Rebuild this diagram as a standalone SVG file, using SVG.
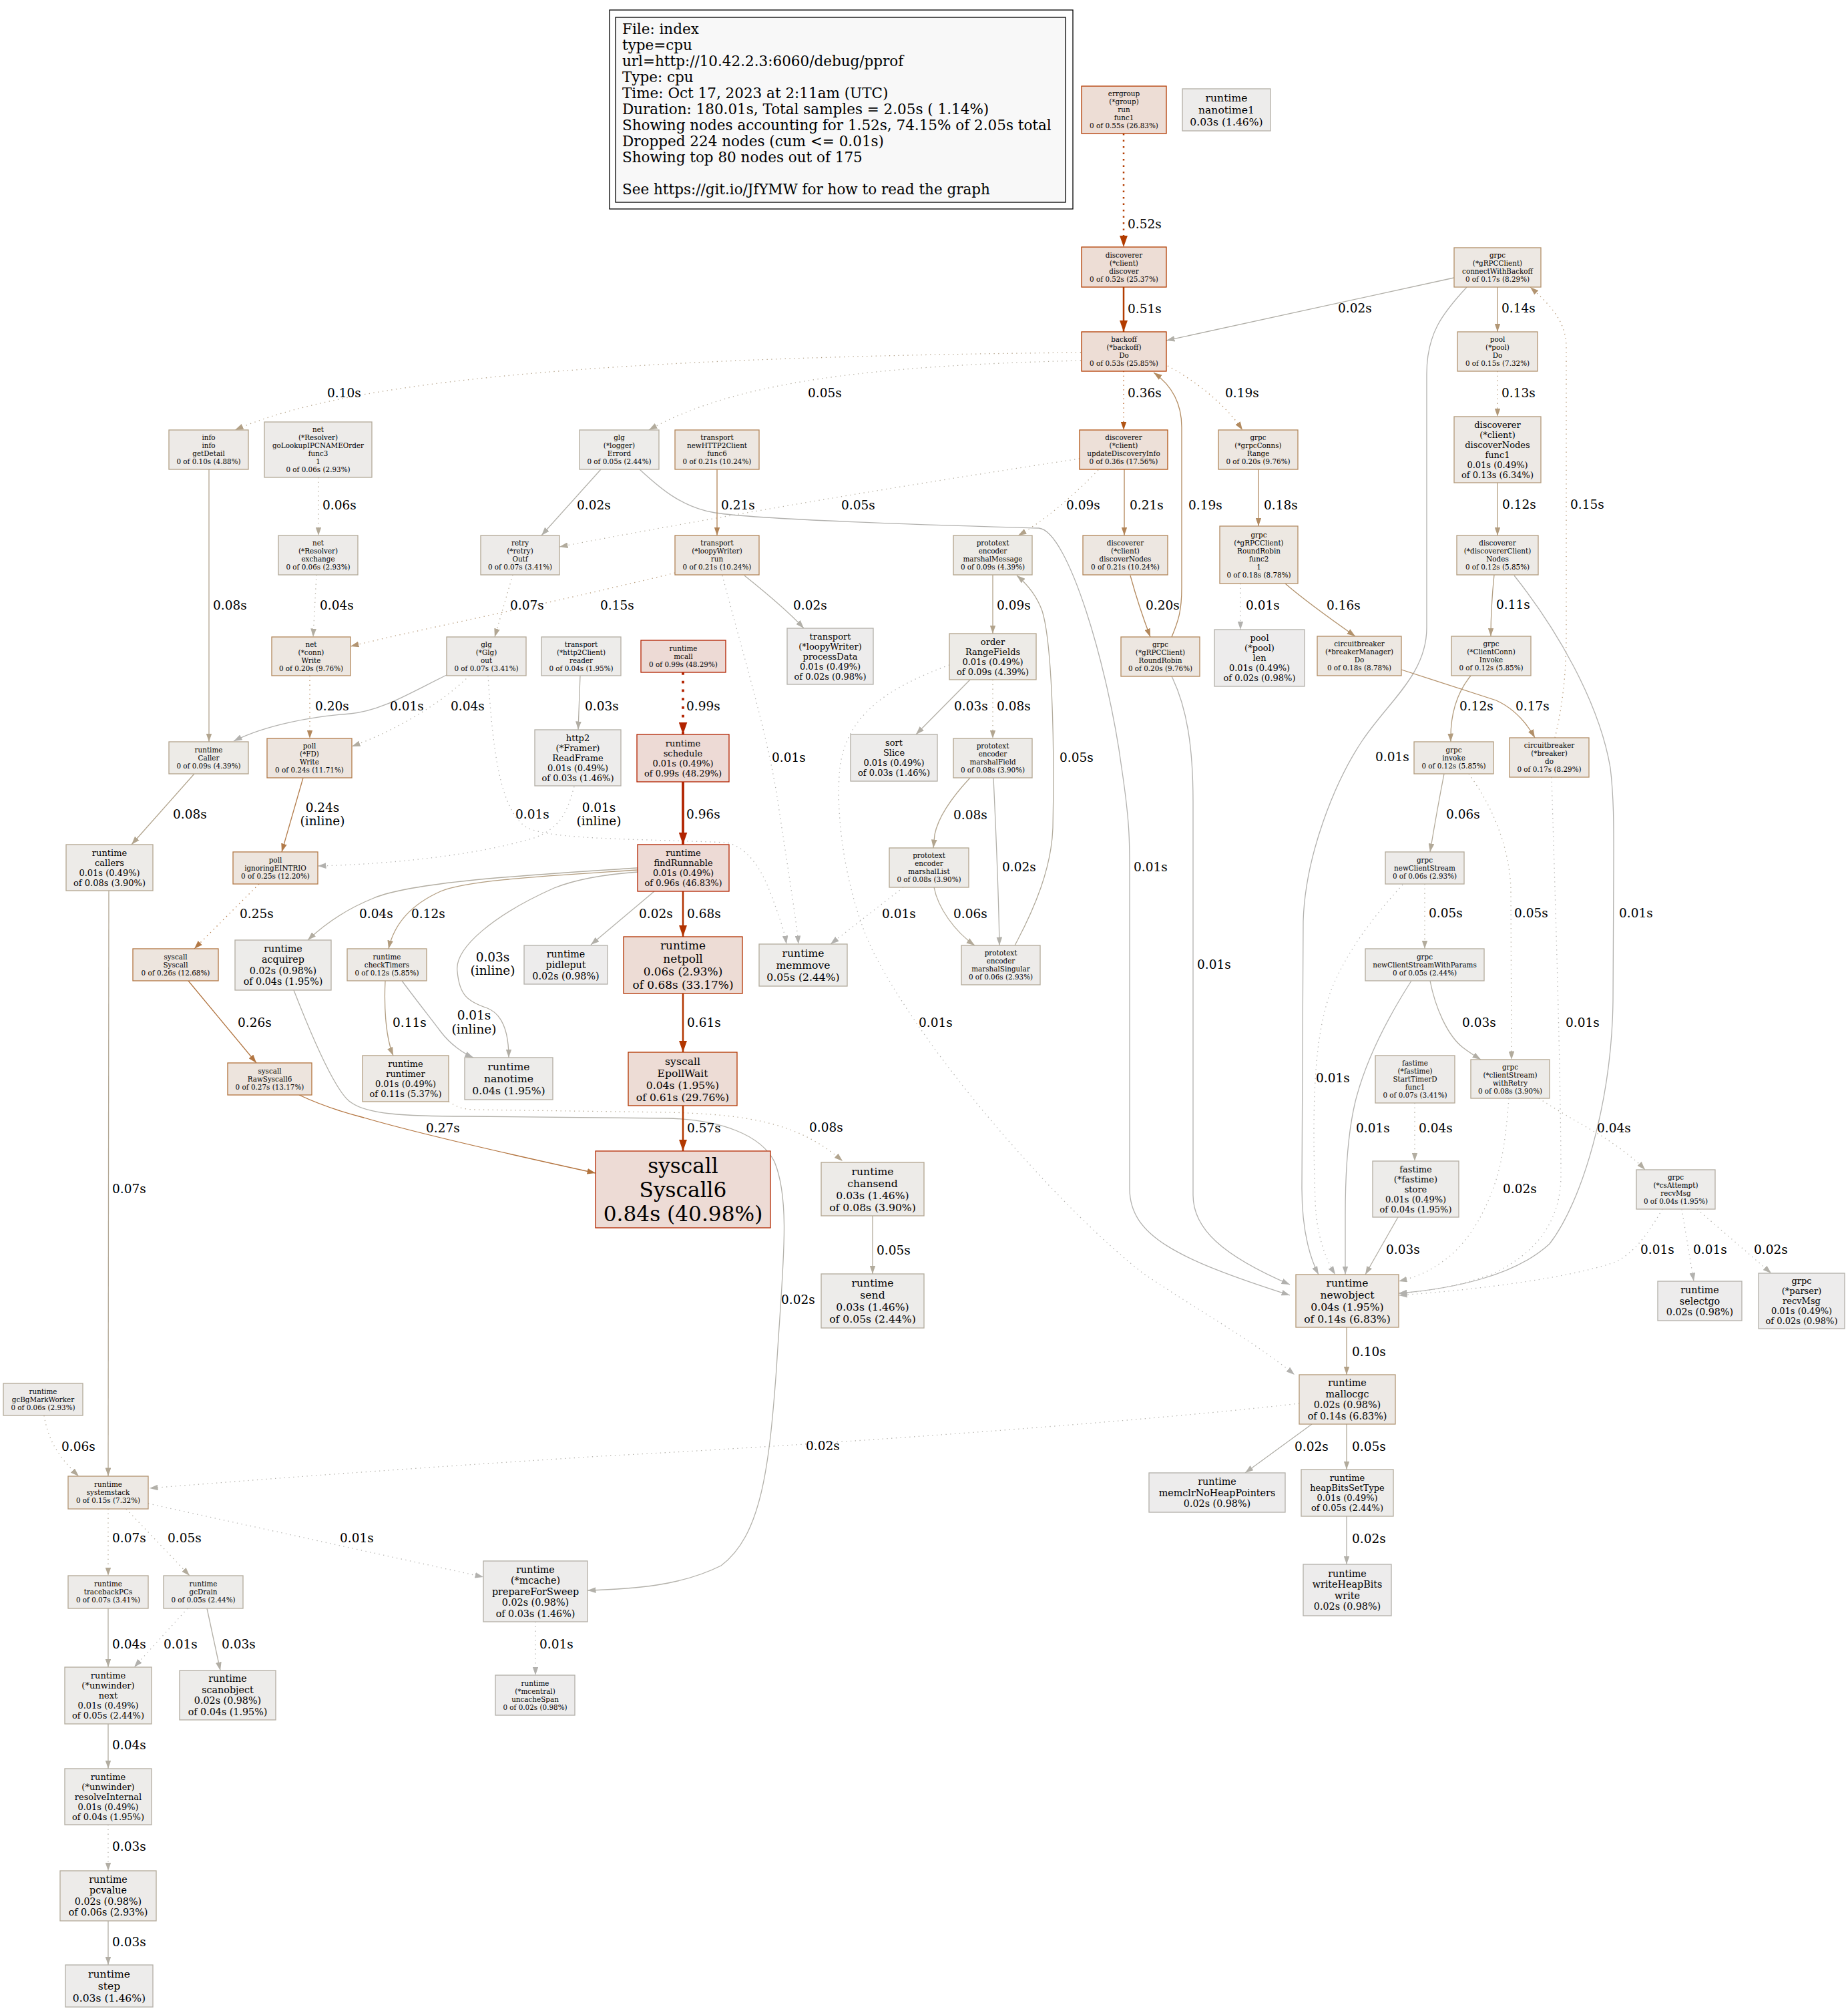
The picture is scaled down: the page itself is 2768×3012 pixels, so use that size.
<svg xmlns="http://www.w3.org/2000/svg" width="2768" height="3012" viewBox="0 0 2768 3012">
<style>
text{font-family:"DejaVu Serif","Liberation Serif",serif;fill:#000}
.nd rect{stroke-width:1.3}
.nd text{text-anchor:middle}
.f8{font-size:10.4px}.f10{font-size:13px}.f11{font-size:14.3px}.f12{font-size:15.6px}.f13{font-size:16.9px}.f24{font-size:31.2px}
.e{fill:none;stroke-width:1.3}
.w2{stroke-width:2.5}.w3{stroke-width:3.75}
.d{stroke-dasharray:1.3 5.5}
.w2.d{stroke-dasharray:2.5 7}.w3.d{stroke-dasharray:3.75 9}
.lb text{font-size:18.5px}
.lb .c{text-anchor:middle}
.leg text{font-size:21.5px}
</style>
<defs>
<marker id="a-b2b0a9" viewBox="0 0 10 7" refX="10" refY="3.5" markerWidth="12.5" markerHeight="8.75" orient="auto" markerUnits="userSpaceOnUse"><path d="M0,0L10,3.5L0,7z" fill="#b2b0a9"/></marker>
<marker id="a-b29775" viewBox="0 0 10 7" refX="10" refY="3.5" markerWidth="12.5" markerHeight="8.75" orient="auto" markerUnits="userSpaceOnUse"><path d="M0,0L10,3.5L0,7z" fill="#b29775"/></marker>
<marker id="a-b2b1ae" viewBox="0 0 10 7" refX="10" refY="3.5" markerWidth="12.5" markerHeight="8.75" orient="auto" markerUnits="userSpaceOnUse"><path d="M0,0L10,3.5L0,7z" fill="#b2b1ae"/></marker>
<marker id="a-b29979" viewBox="0 0 10 7" refX="10" refY="3.5" markerWidth="12.5" markerHeight="8.75" orient="auto" markerUnits="userSpaceOnUse"><path d="M0,0L10,3.5L0,7z" fill="#b29979"/></marker>
<marker id="a-b25515" viewBox="0 0 10 7" refX="10" refY="3.5" markerWidth="12.5" markerHeight="8.75" orient="auto" markerUnits="userSpaceOnUse"><path d="M0,0L10,3.5L0,7z" fill="#b25515"/></marker>
<marker id="a-b28a5f" viewBox="0 0 10 7" refX="10" refY="3.5" markerWidth="12.5" markerHeight="8.75" orient="auto" markerUnits="userSpaceOnUse"><path d="M0,0L10,3.5L0,7z" fill="#b28a5f"/></marker>
<marker id="a-b2a086" viewBox="0 0 10 7" refX="10" refY="3.5" markerWidth="12.5" markerHeight="8.75" orient="auto" markerUnits="userSpaceOnUse"><path d="M0,0L10,3.5L0,7z" fill="#b2a086"/></marker>
<marker id="a-b2ab9c" viewBox="0 0 10 7" refX="10" refY="3.5" markerWidth="12.5" markerHeight="8.75" orient="auto" markerUnits="userSpaceOnUse"><path d="M0,0L10,3.5L0,7z" fill="#b2ab9c"/></marker>
<marker id="a-b2a38b" viewBox="0 0 10 7" refX="10" refY="3.5" markerWidth="12.5" markerHeight="8.75" orient="auto" markerUnits="userSpaceOnUse"><path d="M0,0L10,3.5L0,7z" fill="#b2a38b"/></marker>
<marker id="a-b28457" viewBox="0 0 10 7" refX="10" refY="3.5" markerWidth="12.5" markerHeight="8.75" orient="auto" markerUnits="userSpaceOnUse"><path d="M0,0L10,3.5L0,7z" fill="#b28457"/></marker>
<marker id="a-b28c64" viewBox="0 0 10 7" refX="10" refY="3.5" markerWidth="12.5" markerHeight="8.75" orient="auto" markerUnits="userSpaceOnUse"><path d="M0,0L10,3.5L0,7z" fill="#b28c64"/></marker>
<marker id="a-b29c7e" viewBox="0 0 10 7" refX="10" refY="3.5" markerWidth="12.5" markerHeight="8.75" orient="auto" markerUnits="userSpaceOnUse"><path d="M0,0L10,3.5L0,7z" fill="#b29c7e"/></marker>
<marker id="a-b2a998" viewBox="0 0 10 7" refX="10" refY="3.5" markerWidth="12.5" markerHeight="8.75" orient="auto" markerUnits="userSpaceOnUse"><path d="M0,0L10,3.5L0,7z" fill="#b2a998"/></marker>
<marker id="a-b2a58f" viewBox="0 0 10 7" refX="10" refY="3.5" markerWidth="12.5" markerHeight="8.75" orient="auto" markerUnits="userSpaceOnUse"><path d="M0,0L10,3.5L0,7z" fill="#b2a58f"/></marker>
<marker id="a-b2ada1" viewBox="0 0 10 7" refX="10" refY="3.5" markerWidth="12.5" markerHeight="8.75" orient="auto" markerUnits="userSpaceOnUse"><path d="M0,0L10,3.5L0,7z" fill="#b2ada1"/></marker>
<marker id="a-b2a794" viewBox="0 0 10 7" refX="10" refY="3.5" markerWidth="12.5" markerHeight="8.75" orient="auto" markerUnits="userSpaceOnUse"><path d="M0,0L10,3.5L0,7z" fill="#b2a794"/></marker>
<marker id="a-b29471" viewBox="0 0 10 7" refX="10" refY="3.5" markerWidth="12.5" markerHeight="8.75" orient="auto" markerUnits="userSpaceOnUse"><path d="M0,0L10,3.5L0,7z" fill="#b29471"/></marker>
<marker id="a-b2875b" viewBox="0 0 10 7" refX="10" refY="3.5" markerWidth="12.5" markerHeight="8.75" orient="auto" markerUnits="userSpaceOnUse"><path d="M0,0L10,3.5L0,7z" fill="#b2875b"/></marker>
<marker id="a-b2926c" viewBox="0 0 10 7" refX="10" refY="3.5" markerWidth="12.5" markerHeight="8.75" orient="auto" markerUnits="userSpaceOnUse"><path d="M0,0L10,3.5L0,7z" fill="#b2926c"/></marker>
<marker id="a-b29e82" viewBox="0 0 10 7" refX="10" refY="3.5" markerWidth="12.5" markerHeight="8.75" orient="auto" markerUnits="userSpaceOnUse"><path d="M0,0L10,3.5L0,7z" fill="#b29e82"/></marker>
<marker id="a-b28f68" viewBox="0 0 10 7" refX="10" refY="3.5" markerWidth="12.5" markerHeight="8.75" orient="auto" markerUnits="userSpaceOnUse"><path d="M0,0L10,3.5L0,7z" fill="#b28f68"/></marker>
<marker id="a-b2aea5" viewBox="0 0 10 7" refX="10" refY="3.5" markerWidth="12.5" markerHeight="8.75" orient="auto" markerUnits="userSpaceOnUse"><path d="M0,0L10,3.5L0,7z" fill="#b2aea5"/></marker>
<marker id="a-b27b4a" viewBox="0 0 10 7" refX="10" refY="3.5" markerWidth="12.5" markerHeight="8.75" orient="auto" markerUnits="userSpaceOnUse"><path d="M0,0L10,3.5L0,7z" fill="#b27b4a"/></marker>
<marker id="a-b27845" viewBox="0 0 10 7" refX="10" refY="3.5" markerWidth="12.5" markerHeight="8.75" orient="auto" markerUnits="userSpaceOnUse"><path d="M0,0L10,3.5L0,7z" fill="#b27845"/></marker>
<marker id="a-b27541" viewBox="0 0 10 7" refX="10" refY="3.5" markerWidth="12.5" markerHeight="8.75" orient="auto" markerUnits="userSpaceOnUse"><path d="M0,0L10,3.5L0,7z" fill="#b27541"/></marker>
<marker id="a-b2723c" viewBox="0 0 10 7" refX="10" refY="3.5" markerWidth="12.5" markerHeight="8.75" orient="auto" markerUnits="userSpaceOnUse"><path d="M0,0L10,3.5L0,7z" fill="#b2723c"/></marker>
<marker id="A-b23c00" viewBox="0 0 10 7" refX="10" refY="3.5" markerWidth="17" markerHeight="12" orient="auto" markerUnits="userSpaceOnUse"><path d="M0,0L10,3.5L0,7z" fill="#b23c00"/></marker>
<marker id="A-b22300" viewBox="0 0 10 7" refX="10" refY="3.5" markerWidth="18" markerHeight="13" orient="auto" markerUnits="userSpaceOnUse"><path d="M0,0L10,3.5L0,7z" fill="#b22300"/></marker>
<marker id="A-b22400" viewBox="0 0 10 7" refX="10" refY="3.5" markerWidth="18" markerHeight="13" orient="auto" markerUnits="userSpaceOnUse"><path d="M0,0L10,3.5L0,7z" fill="#b22400"/></marker>
<marker id="A-b23200" viewBox="0 0 10 7" refX="10" refY="3.5" markerWidth="17" markerHeight="12" orient="auto" markerUnits="userSpaceOnUse"><path d="M0,0L10,3.5L0,7z" fill="#b23200"/></marker>
<marker id="A-b23600" viewBox="0 0 10 7" refX="10" refY="3.5" markerWidth="17" markerHeight="12" orient="auto" markerUnits="userSpaceOnUse"><path d="M0,0L10,3.5L0,7z" fill="#b23600"/></marker>
<marker id="A-b23800" viewBox="0 0 10 7" refX="10" refY="3.5" markerWidth="17" markerHeight="12" orient="auto" markerUnits="userSpaceOnUse"><path d="M0,0L10,3.5L0,7z" fill="#b23800"/></marker>
</defs>
<rect width="2768" height="3012" fill="#fff"/>

<g id="legend" class="leg">
<rect x="913" y="15" width="694" height="298" fill="none" stroke="#000" stroke-width="1.3"/>
<rect x="922" y="26" width="674" height="277" fill="#f8f8f8" stroke="#000" stroke-width="1.3"/>
<text x="932" y="50.5">File: index</text>
<text x="932" y="74.5">type=cpu</text>
<text x="932" y="98.5">url=http://10.42.2.3:6060/debug/pprof</text>
<text x="932" y="122.5">Type: cpu</text>
<text x="932" y="146.5">Time: Oct 17, 2023 at 2:11am (UTC)</text>
<text x="932" y="170.5">Duration: 180.01s, Total samples = 2.05s ( 1.14%)</text>
<text x="932" y="194.5">Showing nodes accounting for 1.52s, 74.15% of 2.05s total</text>
<text x="932" y="218.5">Dropped 224 nodes (cum &lt;= 0.01s)</text>
<text x="932" y="242.5">Showing top 80 nodes out of 175</text>
<text x="932" y="290.5">See https://git.io/JfYMW for how to read the graph</text>
</g>

<g id="edges">
<path class="e w2 d" stroke="#b23c00" d="M1683,200L1683,370" marker-end="url(#A-b23c00)"/>
<path class="e w2" stroke="#b23c00" d="M1683,430L1683,497" marker-end="url(#A-b23c00)"/>
<path class="e" stroke="#b2b0a9" d="M2178,416L1747,510" marker-end="url(#a-b2b0a9)"/>
<path class="e" stroke="#b29775" d="M2243,430L2243,497" marker-end="url(#a-b29775)"/>
<path class="e" stroke="#b2b1ae" d="M2197,430C2160,470 2137,500 2137,560L2137,940C2137,1010 2080,1050 2040,1110C2000,1170 1955,1280 1952,1380L1950,1780C1950,1850 1965,1890 1975,1909" marker-end="url(#a-b2b1ae)"/>
<path class="e d" stroke="#b29979" d="M2243,556L2243,624" marker-end="url(#a-b29979)"/>
<path class="e d" stroke="#b25515" d="M1683,556L1683,644" marker-end="url(#a-b25515)"/>
<path class="e d" stroke="#b28a5f" d="M1749,548C1790,570 1835,605 1861,644" marker-end="url(#a-b28a5f)"/>
<path class="e" stroke="#b28a5f" d="M1755,954C1765,930 1770,915 1770,880L1770,640C1770,600 1752,575 1728,558" marker-end="url(#a-b28a5f)"/>
<path class="e d" stroke="#b2a086" d="M1619,528C900,535 520,570 352,644" marker-end="url(#a-b2a086)"/>
<path class="e d" stroke="#b2ab9c" d="M1619,540C1300,548 1100,572 972,644" marker-end="url(#a-b2ab9c)"/>
<path class="e d" stroke="#b2ab9c" d="M1617,687C1400,720 1150,760 838,819" marker-end="url(#a-b2ab9c)"/>
<path class="e d" stroke="#b2a38b" d="M1645,704C1610,740 1565,780 1525,802" marker-end="url(#a-b2a38b)"/>
<path class="e" stroke="#b28457" d="M1684,703L1684,802" marker-end="url(#a-b28457)"/>
<path class="e" stroke="#b28c64" d="M1885,703L1885,788" marker-end="url(#a-b28c64)"/>
<path class="e" stroke="#b29c7e" d="M2243,723L2243,802" marker-end="url(#a-b29c7e)"/>
<path class="e d" stroke="#b2a998" d="M477,715L477,802" marker-end="url(#a-b2a998)"/>
<path class="e" stroke="#b2b0a9" d="M900,703L811,802" marker-end="url(#a-b2b0a9)"/>
<path class="e" stroke="#b2b1ae" d="M958,703C985,728 1020,760 1071,768C1150,780 1450,788 1556,791C1600,795 1660,1000 1680,1150C1692,1230 1692,1260 1692,1300L1692,1780C1692,1850 1760,1885 1932,1940" marker-end="url(#a-b2b1ae)"/>
<path class="e" stroke="#b28457" d="M1074,703L1074,802" marker-end="url(#a-b28457)"/>
<path class="e" stroke="#b2a58f" d="M313,703L313,1111" marker-end="url(#a-b2a58f)"/>
<path class="e d" stroke="#b2ada1" d="M474,861L469,954" marker-end="url(#a-b2ada1)"/>
<path class="e d" stroke="#b2a794" d="M768,861L741,954" marker-end="url(#a-b2a794)"/>
<path class="e d" stroke="#b29471" d="M1011,858C820,905 640,940 525,968" marker-end="url(#a-b29471)"/>
<path class="e" stroke="#b2b0a9" d="M1115,862C1150,890 1180,915 1204,941" marker-end="url(#a-b2b0a9)"/>
<path class="e d" stroke="#b2b1ae" d="M1082,862C1110,970 1150,1100 1165,1200C1180,1300 1193,1380 1196,1414" marker-end="url(#a-b2b1ae)"/>
<path class="e" stroke="#b2a38b" d="M1487,861L1487,949" marker-end="url(#a-b2a38b)"/>
<path class="e" stroke="#b2875b" d="M1693,862C1702,895 1712,925 1723,954" marker-end="url(#a-b2875b)"/>
<path class="e d" stroke="#b2b1ae" d="M1858,874L1858,943" marker-end="url(#a-b2b1ae)"/>
<path class="e" stroke="#b2926c" d="M1925,874C1955,900 1990,925 2030,953" marker-end="url(#a-b2926c)"/>
<path class="e" stroke="#b29e82" d="M2238,861C2235,890 2233,920 2233,953" marker-end="url(#a-b29e82)"/>
<path class="e" stroke="#b2b1ae" d="M2268,862C2330,940 2395,1050 2412,1150C2418,1200 2417,1250 2417,1300L2416,1500C2414,1650 2370,1800 2321,1863C2270,1910 2180,1930 2095,1937" marker-end="url(#a-b2b1ae)"/>
<path class="e" stroke="#b29c7e" d="M2203,1012C2180,1040 2172,1075 2173,1111" marker-end="url(#a-b29c7e)"/>
<path class="e" stroke="#b28f68" d="M2099,1003L2241,1049C2265,1060 2285,1080 2299,1105" marker-end="url(#a-b28f68)"/>
<path class="e d" stroke="#b29471" d="M2329,1105C2340,1060 2346,1010 2346,950L2346,520C2346,480 2320,455 2292,430" marker-end="url(#a-b29471)"/>
<path class="e" stroke="#b2b1ae" d="M669,1011C610,1040 570,1065 524,1069C470,1073 400,1085 350,1110" marker-end="url(#a-b2b1ae)"/>
<path class="e d" stroke="#b2875b" d="M464,1012L464,1106" marker-end="url(#a-b2875b)"/>
<path class="e d" stroke="#b2ada1" d="M703,1012C660,1055 590,1095 527,1118" marker-end="url(#a-b2ada1)"/>
<path class="e d" stroke="#b2b1ae" d="M731,1012C738,1120 748,1215 790,1240C830,1258 950,1256 1089,1262C1120,1270 1140,1300 1155,1340C1168,1375 1175,1395 1178,1414" marker-end="url(#a-b2b1ae)"/>
<path class="e" stroke="#b2aea5" d="M869,1012L866,1093" marker-end="url(#a-b2aea5)"/>
<path class="e w3 d" stroke="#b22300" d="M1023,1007L1023,1100" marker-end="url(#A-b22300)"/>
<path class="e" stroke="#b2a58f" d="M291,1159L197,1265" marker-end="url(#a-b2a58f)"/>
<path class="e" stroke="#b27b4a" d="M454,1165L422,1276" marker-end="url(#a-b27b4a)"/>
<path class="e d" stroke="#b2b1ae" d="M860,1178C850,1215 840,1240 800,1255C700,1285 560,1295 476,1297" marker-end="url(#a-b2b1ae)"/>
<path class="e w3" stroke="#b22400" d="M1023,1171L1023,1265" marker-end="url(#A-b22400)"/>
<path class="e" stroke="#b2a794" d="M163,1334L162,2211" marker-end="url(#a-b2a794)"/>
<path class="e d" stroke="#b27845" d="M388,1324L291,1421" marker-end="url(#a-b27845)"/>
<path class="e" stroke="#b2ada1" d="M955,1300C800,1310 620,1320 560,1345C510,1365 480,1390 461,1408" marker-end="url(#a-b2ada1)"/>
<path class="e" stroke="#b29c7e" d="M955,1303C820,1312 700,1318 660,1335C615,1355 590,1385 582,1421" marker-end="url(#a-b29c7e)"/>
<path class="e" stroke="#b2aea5" d="M955,1306C900,1310 860,1318 830,1330C740,1370 680,1420 685,1455C688,1490 700,1500 730,1510C755,1520 762,1550 762,1584" marker-end="url(#a-b2aea5)"/>
<path class="e" stroke="#b2b0a9" d="M980,1335L885,1415" marker-end="url(#a-b2b0a9)"/>
<path class="e w2" stroke="#b23200" d="M1023,1335L1023,1403" marker-end="url(#A-b23200)"/>
<path class="e d" stroke="#b2b1ae" d="M1353,1329L1244,1414" marker-end="url(#a-b2b1ae)"/>
<path class="e" stroke="#b2a998" d="M1399,1329C1405,1360 1430,1395 1460,1416" marker-end="url(#a-b2a998)"/>
<path class="e" stroke="#b2a58f" d="M1453,1165C1425,1195 1405,1225 1400,1250L1398,1270" marker-end="url(#a-b2a58f)"/>
<path class="e" stroke="#b2b0a9" d="M1488,1165C1492,1250 1496,1350 1497,1416" marker-end="url(#a-b2b0a9)"/>
<path class="e" stroke="#b2ab9c" d="M1520,1416C1550,1360 1575,1300 1577,1240C1580,1100 1575,960 1561,915C1552,890 1535,872 1523,862" marker-end="url(#a-b2ab9c)"/>
<path class="e" stroke="#b2aea5" d="M1453,1018L1372,1100" marker-end="url(#a-b2aea5)"/>
<path class="e d" stroke="#b2a58f" d="M1487,1018L1487,1106" marker-end="url(#a-b2a58f)"/>
<path class="e d" stroke="#b2b1ae" d="M1422,996C1330,1030 1268,1070 1258,1150C1250,1230 1270,1350 1310,1430C1400,1600 1600,1820 1712,1907C1790,1960 1880,2010 1939,2059" marker-end="url(#a-b2b1ae)"/>
<path class="e" stroke="#b2b1ae" d="M1755,1013C1778,1060 1787,1120 1787,1200L1787,1790C1787,1840 1830,1880 1932,1924" marker-end="url(#a-b2b1ae)"/>
<path class="e" stroke="#b2a998" d="M2163,1159C2155,1200 2148,1240 2142,1276" marker-end="url(#a-b2a998)"/>
<path class="e d" stroke="#b2ab9c" d="M2200,1159C2230,1200 2260,1260 2263,1330L2264,1587" marker-end="url(#a-b2ab9c)"/>
<path class="e d" stroke="#b2b1ae" d="M2324,1164C2328,1300 2338,1600 2338,1760C2338,1830 2300,1880 2230,1910C2180,1928 2130,1935 2095,1937" marker-end="url(#a-b2b1ae)"/>
<path class="e" stroke="#b27541" d="M282,1469L384,1592" marker-end="url(#a-b27541)"/>
<path class="e" stroke="#b29e82" d="M577,1469C575,1510 578,1555 589,1581" marker-end="url(#a-b29e82)"/>
<path class="e" stroke="#b2b1ae" d="M602,1469C625,1500 645,1525 660,1545C675,1565 695,1578 709,1584" marker-end="url(#a-b2b1ae)"/>
<path class="e" stroke="#b2b0a9" d="M440,1483C470,1560 505,1640 527,1652C550,1668 600,1672 700,1672L1000,1675C1080,1677 1140,1700 1160,1740C1185,1800 1172,1900 1163,2050C1152,2200 1140,2300 1080,2345C1020,2375 950,2380 880,2382" marker-end="url(#a-b2b0a9)"/>
<path class="e w2" stroke="#b23600" d="M1023,1488L1023,1576" marker-end="url(#A-b23600)"/>
<path class="e d" stroke="#b2ab9c" d="M2134,1324L2134,1421" marker-end="url(#a-b2ab9c)"/>
<path class="e d" stroke="#b2b1ae" d="M2101,1325C2060,1370 2020,1420 1995,1480C1968,1550 1965,1650 1970,1800C1972,1850 1985,1885 2000,1909" marker-end="url(#a-b2b1ae)"/>
<path class="e" stroke="#b2b1ae" d="M2114,1469C2075,1530 2045,1590 2030,1650C2018,1700 2015,1760 2015,1820L2015,1909" marker-end="url(#a-b2b1ae)"/>
<path class="e" stroke="#b2aea5" d="M2142,1469C2150,1510 2168,1550 2190,1568C2200,1576 2210,1582 2218,1587" marker-end="url(#a-b2aea5)"/>
<path class="e" stroke="#b2723c" d="M448,1640C480,1655 510,1665 545,1674C600,1690 700,1715 892,1757" marker-end="url(#a-b2723c)"/>
<path class="e d" stroke="#b2a58f" d="M672,1650C685,1658 690,1661 710,1662L1000,1666C1130,1669 1200,1685 1262,1739" marker-end="url(#a-b2a58f)"/>
<path class="e w2" stroke="#b23800" d="M1023,1656L1023,1724" marker-end="url(#A-b23800)"/>
<path class="e d" stroke="#b2ada1" d="M2119,1652L2119,1739" marker-end="url(#a-b2ada1)"/>
<path class="e d" stroke="#b2b0a9" d="M2260,1645C2256,1700 2250,1740 2240,1770C2220,1830 2190,1870 2160,1890C2140,1905 2120,1913 2095,1919" marker-end="url(#a-b2b0a9)"/>
<path class="e d" stroke="#b2ada1" d="M2305,1645C2340,1668 2380,1690 2400,1702C2425,1718 2450,1737 2464,1752" marker-end="url(#a-b2ada1)"/>
<path class="e" stroke="#b2ab9c" d="M1307,1821L1307,1908" marker-end="url(#a-b2ab9c)"/>
<path class="e" stroke="#b2aea5" d="M2094,1823L2045,1909" marker-end="url(#a-b2aea5)"/>
<path class="e d" stroke="#b2b1ae" d="M2490,1811C2470,1845 2450,1875 2420,1890C2350,1915 2200,1933 2095,1940" marker-end="url(#a-b2b1ae)"/>
<path class="e d" stroke="#b2b1ae" d="M2519,1811L2537,1919" marker-end="url(#a-b2b1ae)"/>
<path class="e d" stroke="#b2b0a9" d="M2542,1811L2653,1907" marker-end="url(#a-b2b0a9)"/>
<path class="e" stroke="#b2a086" d="M2017,1988L2017,2059" marker-end="url(#a-b2a086)"/>
<path class="e d" stroke="#b2b0a9" d="M1946,2102C1750,2125 1300,2160 900,2181C600,2200 400,2215 224,2229" marker-end="url(#a-b2b0a9)"/>
<path class="e" stroke="#b2b0a9" d="M1965,2133L1865,2206" marker-end="url(#a-b2b0a9)"/>
<path class="e" stroke="#b2ab9c" d="M2017,2133L2017,2201" marker-end="url(#a-b2ab9c)"/>
<path class="e" stroke="#b2b0a9" d="M2017,2271L2017,2343" marker-end="url(#a-b2b0a9)"/>
<path class="e d" stroke="#b2a998" d="M66,2120C72,2155 85,2180 118,2211" marker-end="url(#a-b2a998)"/>
<path class="e d" stroke="#b2a794" d="M162,2260L162,2360" marker-end="url(#a-b2a794)"/>
<path class="e d" stroke="#b2ab9c" d="M189,2260L284,2360" marker-end="url(#a-b2ab9c)"/>
<path class="e d" stroke="#b2b1ae" d="M222,2252L724,2362" marker-end="url(#a-b2b1ae)"/>
<path class="e" stroke="#b2ada1" d="M162,2409L162,2497" marker-end="url(#a-b2ada1)"/>
<path class="e d" stroke="#b2b1ae" d="M281,2409L201,2497" marker-end="url(#a-b2b1ae)"/>
<path class="e" stroke="#b2aea5" d="M310,2409L330,2502" marker-end="url(#a-b2aea5)"/>
<path class="e" stroke="#b2ada1" d="M162,2582L162,2649" marker-end="url(#a-b2ada1)"/>
<path class="e d" stroke="#b2aea5" d="M162,2733L162,2802" marker-end="url(#a-b2aea5)"/>
<path class="e" stroke="#b2aea5" d="M162,2877L162,2943" marker-end="url(#a-b2aea5)"/>
<path class="e d" stroke="#b2b1ae" d="M802,2429L802,2509" marker-end="url(#a-b2b1ae)"/>
</g>

<g id="edge-labels" class="lb">
<text x="1689" y="341.5">0.52s</text>
<text x="1689" y="468.5">0.51s</text>
<text x="2004" y="467.5">0.02s</text>
<text x="2249" y="467.5">0.14s</text>
<text x="2249" y="594.5">0.13s</text>
<text x="1689" y="594.5">0.36s</text>
<text x="1835" y="594.5">0.19s</text>
<text x="1780" y="762.5">0.19s</text>
<text x="490" y="594.5">0.10s</text>
<text x="1210" y="594.5">0.05s</text>
<text x="1260" y="762.5">0.05s</text>
<text x="1597" y="762.5">0.09s</text>
<text x="1692" y="762.5">0.21s</text>
<text x="1893" y="762.5">0.18s</text>
<text x="2250" y="761.5">0.12s</text>
<text x="483" y="762.5">0.06s</text>
<text x="864" y="762.5">0.02s</text>
<text x="1080" y="762.5">0.21s</text>
<text x="2352" y="761.5">0.15s</text>
<text x="319" y="912.5">0.08s</text>
<text x="479" y="912.5">0.04s</text>
<text x="764" y="912.5">0.07s</text>
<text x="899" y="912.5">0.15s</text>
<text x="1188" y="912.5">0.02s</text>
<text x="1493" y="912.5">0.09s</text>
<text x="1716" y="912.5">0.20s</text>
<text x="1866" y="912.5">0.01s</text>
<text x="1987" y="912.5">0.16s</text>
<text x="2241" y="911.5">0.11s</text>
<text x="2186" y="1063.5">0.12s</text>
<text x="2270" y="1063.5">0.17s</text>
<text x="2060" y="1139.5">0.01s</text>
<text x="472" y="1063.5">0.20s</text>
<text x="584" y="1063.5">0.01s</text>
<text x="675" y="1063.5">0.04s</text>
<text x="876" y="1063.5">0.03s</text>
<text x="1028" y="1063.5">0.99s</text>
<text x="1429" y="1063.5">0.03s</text>
<text x="1493" y="1063.5">0.08s</text>
<text x="1156" y="1140.5">0.01s</text>
<text x="1587" y="1140.5">0.05s</text>
<text class="c" x="483" y="1215.5">0.24s</text>
<text class="c" x="483" y="1235.5">(inline)</text>
<text class="c" x="897" y="1215.5">0.01s</text>
<text class="c" x="897" y="1235.5">(inline)</text>
<text x="259" y="1225.5">0.08s</text>
<text x="772" y="1225.5">0.01s</text>
<text x="1028" y="1225.5">0.96s</text>
<text x="1428" y="1226.5">0.08s</text>
<text x="2166" y="1225.5">0.06s</text>
<text x="1698" y="1304.5">0.01s</text>
<text x="1501" y="1304.5">0.02s</text>
<text x="359" y="1374.5">0.25s</text>
<text x="538" y="1374.5">0.04s</text>
<text x="616" y="1374.5">0.12s</text>
<text x="957" y="1374.5">0.02s</text>
<text x="1029" y="1374.5">0.68s</text>
<text x="1321" y="1374.5">0.01s</text>
<text x="1428" y="1374.5">0.06s</text>
<text x="2140" y="1373.5">0.05s</text>
<text x="2268" y="1373.5">0.05s</text>
<text x="2425" y="1373.5">0.01s</text>
<text class="c" x="738" y="1439.5">0.03s</text>
<text class="c" x="738" y="1459.5">(inline)</text>
<text x="1793" y="1450.5">0.01s</text>
<text x="356" y="1537.5">0.26s</text>
<text x="588" y="1537.5">0.11s</text>
<text class="c" x="710" y="1526.5">0.01s</text>
<text class="c" x="710" y="1547.5">(inline)</text>
<text x="1029" y="1537.5">0.61s</text>
<text x="1376" y="1537.5">0.01s</text>
<text x="2190" y="1537.5">0.03s</text>
<text x="2345" y="1537.5">0.01s</text>
<text x="1971" y="1620.5">0.01s</text>
<text x="638" y="1695.5">0.27s</text>
<text x="1029" y="1695.5">0.57s</text>
<text x="1212" y="1694.5">0.08s</text>
<text x="2031" y="1695.5">0.01s</text>
<text x="2125" y="1695.5">0.04s</text>
<text x="2392" y="1695.5">0.04s</text>
<text x="168" y="1786.5">0.07s</text>
<text x="2251" y="1786.5">0.02s</text>
<text x="1313" y="1878.5">0.05s</text>
<text x="2076" y="1877.5">0.03s</text>
<text x="2457" y="1877.5">0.01s</text>
<text x="2536" y="1877.5">0.01s</text>
<text x="2627" y="1877.5">0.02s</text>
<text x="1170" y="1952.5">0.02s</text>
<text x="2025" y="2030.5">0.10s</text>
<text x="92" y="2172.5">0.06s</text>
<text x="1207" y="2171.5">0.02s</text>
<text x="1939" y="2172.5">0.02s</text>
<text x="2025" y="2172.5">0.05s</text>
<text x="168" y="2309.5">0.07s</text>
<text x="251" y="2309.5">0.05s</text>
<text x="509" y="2309.5">0.01s</text>
<text x="2025" y="2310.5">0.02s</text>
<text x="168" y="2468.5">0.04s</text>
<text x="245" y="2468.5">0.01s</text>
<text x="332" y="2468.5">0.03s</text>
<text x="808" y="2468.5">0.01s</text>
<text x="168" y="2619.5">0.04s</text>
<text x="168" y="2771.5">0.03s</text>
<text x="168" y="2914.5">0.03s</text>
</g>

<g id="N1" class="nd"><rect x="1620" y="129" width="127" height="71" fill="#edddd5" stroke="#b23a00"/><text class="f8"><tspan x="1683.5" y="144.2">errgroup</tspan><tspan x="1683.5" y="156.2">(*group)</tspan><tspan x="1683.5" y="168.2">run</tspan><tspan x="1683.5" y="180.2">func1</tspan><tspan x="1683.5" y="192.2">0 of 0.55s (26.83%)</tspan></text></g>
<g id="N2" class="nd"><rect x="1771" y="133" width="132" height="63" fill="#edeceb" stroke="#b2aea5"/><text class="f12"><tspan x="1837" y="152.1">runtime</tspan><tspan x="1837" y="170.1">nanotime1</tspan><tspan x="1837" y="188.1">0.03s (1.46%)</tspan></text></g>
<g id="N3" class="nd"><rect x="1620" y="370" width="127" height="60" fill="#edddd5" stroke="#b23c00"/><text class="f8"><tspan x="1683.5" y="385.7">discoverer</tspan><tspan x="1683.5" y="397.7">(*client)</tspan><tspan x="1683.5" y="409.7">discover</tspan><tspan x="1683.5" y="421.7">0 of 0.52s (25.37%)</tspan></text></g>
<g id="N4" class="nd"><rect x="2178" y="371" width="130" height="59" fill="#ede8e3" stroke="#b28f68"/><text class="f8"><tspan x="2243" y="386.2">grpc</tspan><tspan x="2243" y="398.2">(*gRPCClient)</tspan><tspan x="2243" y="410.2">connectWithBackoff</tspan><tspan x="2243" y="422.2">0 of 0.17s (8.29%)</tspan></text></g>
<g id="N5" class="nd"><rect x="1620" y="497" width="127" height="59" fill="#edddd5" stroke="#b23b00"/><text class="f8"><tspan x="1683.5" y="512.2">backoff</tspan><tspan x="1683.5" y="524.2">(*backoff)</tspan><tspan x="1683.5" y="536.2">Do</tspan><tspan x="1683.5" y="548.2">0 of 0.53s (25.85%)</tspan></text></g>
<g id="N6" class="nd"><rect x="2183" y="497" width="120" height="59" fill="#ede9e4" stroke="#b29471"/><text class="f8"><tspan x="2243" y="512.2">pool</tspan><tspan x="2243" y="524.2">(*pool)</tspan><tspan x="2243" y="536.2">Do</tspan><tspan x="2243" y="548.2">0 of 0.15s (7.32%)</tspan></text></g>
<g id="N7" class="nd"><rect x="1617" y="644" width="132" height="59" fill="#ede0d8" stroke="#b25515"/><text class="f8"><tspan x="1683" y="659.2">discoverer</tspan><tspan x="1683" y="671.2">(*client)</tspan><tspan x="1683" y="683.2">updateDiscoveryInfo</tspan><tspan x="1683" y="695.2">0 of 0.36s (17.56%)</tspan></text></g>
<g id="N8" class="nd"><rect x="1825" y="644" width="119" height="59" fill="#ede7e1" stroke="#b2875b"/><text class="f8"><tspan x="1884.5" y="659.2">grpc</tspan><tspan x="1884.5" y="671.2">(*grpcConns)</tspan><tspan x="1884.5" y="683.2">Range</tspan><tspan x="1884.5" y="695.2">0 of 0.20s (9.76%)</tspan></text></g>
<g id="N9" class="nd"><rect x="2178" y="624" width="130" height="99" fill="#ede9e5" stroke="#b29979"/><text class="f10"><tspan x="2243" y="640.7">discoverer</tspan><tspan x="2243" y="655.7">(*client)</tspan><tspan x="2243" y="670.7">discoverNodes</tspan><tspan x="2243" y="685.7">func1</tspan><tspan x="2243" y="700.7">0.01s (0.49%)</tspan><tspan x="2243" y="715.7">of 0.13s (6.34%)</tspan></text></g>
<g id="N10" class="nd"><rect x="253" y="644" width="119" height="59" fill="#edeae7" stroke="#b2a086"/><text class="f8"><tspan x="312.5" y="659.2">info</tspan><tspan x="312.5" y="671.2">info</tspan><tspan x="312.5" y="683.2">getDetail</tspan><tspan x="312.5" y="695.2">0 of 0.10s (4.88%)</tspan></text></g>
<g id="N11" class="nd"><rect x="396" y="632" width="161" height="83" fill="#edebe9" stroke="#b2a998"/><text class="f8"><tspan x="476.5" y="647.2">net</tspan><tspan x="476.5" y="659.2">(*Resolver)</tspan><tspan x="476.5" y="671.2">goLookupIPCNAMEOrder</tspan><tspan x="476.5" y="683.2">func3</tspan><tspan x="476.5" y="695.2">1</tspan><tspan x="476.5" y="707.2">0 of 0.06s (2.93%)</tspan></text></g>
<g id="N12" class="nd"><rect x="868" y="644" width="119" height="59" fill="#edecea" stroke="#b2ab9c"/><text class="f8"><tspan x="927.5" y="659.2">glg</tspan><tspan x="927.5" y="671.2">(*logger)</tspan><tspan x="927.5" y="683.2">Errord</tspan><tspan x="927.5" y="695.2">0 of 0.05s (2.44%)</tspan></text></g>
<g id="N13" class="nd"><rect x="1011" y="644" width="126" height="59" fill="#ede7e1" stroke="#b28457"/><text class="f8"><tspan x="1074" y="659.2">transport</tspan><tspan x="1074" y="671.2">newHTTP2Client</tspan><tspan x="1074" y="683.2">func6</tspan><tspan x="1074" y="695.2">0 of 0.21s (10.24%)</tspan></text></g>
<g id="N14" class="nd"><rect x="417" y="802" width="119" height="59" fill="#edebe9" stroke="#b2a998"/><text class="f8"><tspan x="476.5" y="817.2">net</tspan><tspan x="476.5" y="829.2">(*Resolver)</tspan><tspan x="476.5" y="841.2">exchange</tspan><tspan x="476.5" y="853.2">0 of 0.06s (2.93%)</tspan></text></g>
<g id="N15" class="nd"><rect x="720" y="802" width="118" height="59" fill="#edebe9" stroke="#b2a794"/><text class="f8"><tspan x="779" y="817.2">retry</tspan><tspan x="779" y="829.2">(*retry)</tspan><tspan x="779" y="841.2">Outf</tspan><tspan x="779" y="853.2">0 of 0.07s (3.41%)</tspan></text></g>
<g id="N16" class="nd"><rect x="1011" y="802" width="126" height="59" fill="#ede7e1" stroke="#b28457"/><text class="f8"><tspan x="1074" y="817.2">transport</tspan><tspan x="1074" y="829.2">(*loopyWriter)</tspan><tspan x="1074" y="841.2">run</tspan><tspan x="1074" y="853.2">0 of 0.21s (10.24%)</tspan></text></g>
<g id="N17" class="nd"><rect x="1428" y="802" width="118" height="59" fill="#edebe7" stroke="#b2a38b"/><text class="f8"><tspan x="1487" y="817.2">prototext</tspan><tspan x="1487" y="829.2">encoder</tspan><tspan x="1487" y="841.2">marshalMessage</tspan><tspan x="1487" y="853.2">0 of 0.09s (4.39%)</tspan></text></g>
<g id="N18" class="nd"><rect x="1622" y="802" width="127" height="59" fill="#ede7e1" stroke="#b28457"/><text class="f8"><tspan x="1685.5" y="817.2">discoverer</tspan><tspan x="1685.5" y="829.2">(*client)</tspan><tspan x="1685.5" y="841.2">discoverNodes</tspan><tspan x="1685.5" y="853.2">0 of 0.21s (10.24%)</tspan></text></g>
<g id="N19" class="nd"><rect x="1827" y="788" width="117" height="86" fill="#ede8e2" stroke="#b28c64"/><text class="f8"><tspan x="1885.5" y="804.7">grpc</tspan><tspan x="1885.5" y="816.7">(*gRPCClient)</tspan><tspan x="1885.5" y="828.7">RoundRobin</tspan><tspan x="1885.5" y="840.7">func2</tspan><tspan x="1885.5" y="852.7">1</tspan><tspan x="1885.5" y="864.7">0 of 0.18s (8.78%)</tspan></text></g>
<g id="N20" class="nd"><rect x="2182" y="802" width="122" height="59" fill="#edeae6" stroke="#b29c7e"/><text class="f8"><tspan x="2243" y="817.2">discoverer</tspan><tspan x="2243" y="829.2">(*discovererClient)</tspan><tspan x="2243" y="841.2">Nodes</tspan><tspan x="2243" y="853.2">0 of 0.12s (5.85%)</tspan></text></g>
<g id="N21" class="nd"><rect x="407" y="954" width="118" height="58" fill="#ede7e1" stroke="#b2875b"/><text class="f8"><tspan x="466" y="968.7">net</tspan><tspan x="466" y="980.7">(*conn)</tspan><tspan x="466" y="992.7">Write</tspan><tspan x="466" y="1004.7">0 of 0.20s (9.76%)</tspan></text></g>
<g id="N22" class="nd"><rect x="669" y="954" width="119" height="58" fill="#edebe9" stroke="#b2a794"/><text class="f8"><tspan x="728.5" y="968.7">glg</tspan><tspan x="728.5" y="980.7">(*Glg)</tspan><tspan x="728.5" y="992.7">out</tspan><tspan x="728.5" y="1004.7">0 of 0.07s (3.41%)</tspan></text></g>
<g id="N23" class="nd"><rect x="811" y="954" width="119" height="58" fill="#edecea" stroke="#b2ada1"/><text class="f8"><tspan x="870.5" y="968.7">transport</tspan><tspan x="870.5" y="980.7">(*http2Client)</tspan><tspan x="870.5" y="992.7">reader</tspan><tspan x="870.5" y="1004.7">0 of 0.04s (1.95%)</tspan></text></g>
<g id="N24" class="nd"><rect x="960" y="959" width="127" height="48" fill="#eddad5" stroke="#b22300"/><text class="f8"><tspan x="1023.5" y="974.7">runtime</tspan><tspan x="1023.5" y="986.7">mcall</tspan><tspan x="1023.5" y="998.7">0 of 0.99s (48.29%)</tspan></text></g>
<g id="N25" class="nd"><rect x="1179" y="941" width="129" height="84" fill="#edecec" stroke="#b2b0a9"/><text class="f10"><tspan x="1243.5" y="957.7">transport</tspan><tspan x="1243.5" y="972.7">(*loopyWriter)</tspan><tspan x="1243.5" y="987.7">processData</tspan><tspan x="1243.5" y="1002.7">0.01s (0.49%)</tspan><tspan x="1243.5" y="1017.7">of 0.02s (0.98%)</tspan></text></g>
<g id="N26" class="nd"><rect x="1422" y="949" width="130" height="69" fill="#edebe7" stroke="#b2a38b"/><text class="f10"><tspan x="1487" y="965.7">order</tspan><tspan x="1487" y="980.7">RangeFields</tspan><tspan x="1487" y="995.7">0.01s (0.49%)</tspan><tspan x="1487" y="1010.7">of 0.09s (4.39%)</tspan></text></g>
<g id="N27" class="nd"><rect x="1679" y="954" width="118" height="59" fill="#ede7e1" stroke="#b2875b"/><text class="f8"><tspan x="1738" y="969.2">grpc</tspan><tspan x="1738" y="981.2">(*gRPCClient)</tspan><tspan x="1738" y="993.2">RoundRobin</tspan><tspan x="1738" y="1005.2">0 of 0.20s (9.76%)</tspan></text></g>
<g id="N28" class="nd"><rect x="1819" y="943" width="135" height="85" fill="#edecec" stroke="#b2b0a9"/><text class="f10"><tspan x="1886.5" y="960.2">pool</tspan><tspan x="1886.5" y="975.2">(*pool)</tspan><tspan x="1886.5" y="990.2">len</tspan><tspan x="1886.5" y="1005.2">0.01s (0.49%)</tspan><tspan x="1886.5" y="1020.2">of 0.02s (0.98%)</tspan></text></g>
<g id="N29" class="nd"><rect x="1973" y="953" width="126" height="59" fill="#ede8e2" stroke="#b28c64"/><text class="f8"><tspan x="2036" y="968.2">circuitbreaker</tspan><tspan x="2036" y="980.2">(*breakerManager)</tspan><tspan x="2036" y="992.2">Do</tspan><tspan x="2036" y="1004.2">0 of 0.18s (8.78%)</tspan></text></g>
<g id="N30" class="nd"><rect x="2174" y="953" width="119" height="59" fill="#edeae6" stroke="#b29c7e"/><text class="f8"><tspan x="2233.5" y="968.2">grpc</tspan><tspan x="2233.5" y="980.2">(*ClientConn)</tspan><tspan x="2233.5" y="992.2">Invoke</tspan><tspan x="2233.5" y="1004.2">0 of 0.12s (5.85%)</tspan></text></g>
<g id="N31" class="nd"><rect x="253" y="1111" width="119" height="48" fill="#edebe7" stroke="#b2a38b"/><text class="f8"><tspan x="312.5" y="1126.7">runtime</tspan><tspan x="312.5" y="1138.7">Caller</tspan><tspan x="312.5" y="1150.7">0 of 0.09s (4.39%)</tspan></text></g>
<g id="N32" class="nd"><rect x="400" y="1106" width="127" height="59" fill="#ede5df" stroke="#b27b4a"/><text class="f8"><tspan x="463.5" y="1121.2">poll</tspan><tspan x="463.5" y="1133.2">(*FD)</tspan><tspan x="463.5" y="1145.2">Write</tspan><tspan x="463.5" y="1157.2">0 of 0.24s (11.71%)</tspan></text></g>
<g id="N33" class="nd"><rect x="801" y="1093" width="129" height="84" fill="#edeceb" stroke="#b2aea5"/><text class="f10"><tspan x="865.5" y="1109.7">http2</tspan><tspan x="865.5" y="1124.7">(*Framer)</tspan><tspan x="865.5" y="1139.7">ReadFrame</tspan><tspan x="865.5" y="1154.7">0.01s (0.49%)</tspan><tspan x="865.5" y="1169.7">of 0.03s (1.46%)</tspan></text></g>
<g id="N34" class="nd"><rect x="954" y="1100" width="138" height="71" fill="#eddad5" stroke="#b22300"/><text class="f10"><tspan x="1023" y="1117.7">runtime</tspan><tspan x="1023" y="1132.7">schedule</tspan><tspan x="1023" y="1147.7">0.01s (0.49%)</tspan><tspan x="1023" y="1162.7">of 0.99s (48.29%)</tspan></text></g>
<g id="N35" class="nd"><rect x="1274" y="1100" width="130" height="70" fill="#edeceb" stroke="#b2aea5"/><text class="f10"><tspan x="1339" y="1117.2">sort</tspan><tspan x="1339" y="1132.2">Slice</tspan><tspan x="1339" y="1147.2">0.01s (0.49%)</tspan><tspan x="1339" y="1162.2">of 0.03s (1.46%)</tspan></text></g>
<g id="N36" class="nd"><rect x="1428" y="1106" width="118" height="59" fill="#edebe8" stroke="#b2a58f"/><text class="f8"><tspan x="1487" y="1121.2">prototext</tspan><tspan x="1487" y="1133.2">encoder</tspan><tspan x="1487" y="1145.2">marshalField</tspan><tspan x="1487" y="1157.2">0 of 0.08s (3.90%)</tspan></text></g>
<g id="N37" class="nd"><rect x="2118" y="1111" width="119" height="48" fill="#edeae6" stroke="#b29c7e"/><text class="f8"><tspan x="2177.5" y="1126.7">grpc</tspan><tspan x="2177.5" y="1138.7">invoke</tspan><tspan x="2177.5" y="1150.7">0 of 0.12s (5.85%)</tspan></text></g>
<g id="N38" class="nd"><rect x="2261" y="1105" width="119" height="59" fill="#ede8e3" stroke="#b28f68"/><text class="f8"><tspan x="2320.5" y="1120.2">circuitbreaker</tspan><tspan x="2320.5" y="1132.2">(*breaker)</tspan><tspan x="2320.5" y="1144.2">do</tspan><tspan x="2320.5" y="1156.2">0 of 0.17s (8.29%)</tspan></text></g>
<g id="N39" class="nd"><rect x="99" y="1265" width="130" height="69" fill="#edebe8" stroke="#b2a58f"/><text class="f10"><tspan x="164" y="1281.7">runtime</tspan><tspan x="164" y="1296.7">callers</tspan><tspan x="164" y="1311.7">0.01s (0.49%)</tspan><tspan x="164" y="1326.7">of 0.08s (3.90%)</tspan></text></g>
<g id="N40" class="nd"><rect x="349" y="1276" width="127" height="48" fill="#ede5de" stroke="#b27845"/><text class="f8"><tspan x="412.5" y="1291.7">poll</tspan><tspan x="412.5" y="1303.7">ignoringEINTRIO</tspan><tspan x="412.5" y="1315.7">0 of 0.25s (12.20%)</tspan></text></g>
<g id="N41" class="nd"><rect x="955" y="1265" width="137" height="70" fill="#eddad5" stroke="#b22400"/><text class="f10"><tspan x="1023.5" y="1282.2">runtime</tspan><tspan x="1023.5" y="1297.2">findRunnable</tspan><tspan x="1023.5" y="1312.2">0.01s (0.49%)</tspan><tspan x="1023.5" y="1327.2">of 0.96s (46.83%)</tspan></text></g>
<g id="N42" class="nd"><rect x="1332" y="1270" width="119" height="59" fill="#edebe8" stroke="#b2a58f"/><text class="f8"><tspan x="1391.5" y="1285.2">prototext</tspan><tspan x="1391.5" y="1297.2">encoder</tspan><tspan x="1391.5" y="1309.2">marshalList</tspan><tspan x="1391.5" y="1321.2">0 of 0.08s (3.90%)</tspan></text></g>
<g id="N43" class="nd"><rect x="2075" y="1276" width="118" height="48" fill="#edebe9" stroke="#b2a998"/><text class="f8"><tspan x="2134" y="1291.7">grpc</tspan><tspan x="2134" y="1303.7">newClientStream</tspan><tspan x="2134" y="1315.7">0 of 0.06s (2.93%)</tspan></text></g>
<g id="N44" class="nd"><rect x="199" y="1421" width="128" height="48" fill="#ede5de" stroke="#b27541"/><text class="f8"><tspan x="263" y="1436.7">syscall</tspan><tspan x="263" y="1448.7">Syscall</tspan><tspan x="263" y="1460.7">0 of 0.26s (12.68%)</tspan></text></g>
<g id="N45" class="nd"><rect x="352" y="1408" width="144" height="75" fill="#edecea" stroke="#b2ada1"/><text class="f11"><tspan x="424" y="1425.9">runtime</tspan><tspan x="424" y="1442.4">acquirep</tspan><tspan x="424" y="1458.9">0.02s (0.98%)</tspan><tspan x="424" y="1475.4">of 0.04s (1.95%)</tspan></text></g>
<g id="N46" class="nd"><rect x="520" y="1421" width="119" height="48" fill="#edeae6" stroke="#b29c7e"/><text class="f8"><tspan x="579.5" y="1436.7">runtime</tspan><tspan x="579.5" y="1448.7">checkTimers</tspan><tspan x="579.5" y="1460.7">0 of 0.12s (5.85%)</tspan></text></g>
<g id="N47" class="nd"><rect x="785" y="1416" width="125" height="58" fill="#edecec" stroke="#b2b0a9"/><text class="f11"><tspan x="847.5" y="1433.6">runtime</tspan><tspan x="847.5" y="1450.1">pidleput</tspan><tspan x="847.5" y="1466.6">0.02s (0.98%)</tspan></text></g>
<g id="N48" class="nd"><rect x="934" y="1403" width="178" height="85" fill="#eddcd5" stroke="#b23200"/><text class="f13"><tspan x="1023" y="1422.4">runtime</tspan><tspan x="1023" y="1441.9">netpoll</tspan><tspan x="1023" y="1461.4">0.06s (2.93%)</tspan><tspan x="1023" y="1480.9">of 0.68s (33.17%)</tspan></text></g>
<g id="N49" class="nd"><rect x="1137" y="1414" width="132" height="63" fill="#edecea" stroke="#b2ab9c"/><text class="f12"><tspan x="1203" y="1433.1">runtime</tspan><tspan x="1203" y="1451.1">memmove</tspan><tspan x="1203" y="1469.1">0.05s (2.44%)</tspan></text></g>
<g id="N50" class="nd"><rect x="1440" y="1416" width="118" height="59" fill="#edebe9" stroke="#b2a998"/><text class="f8"><tspan x="1499" y="1431.2">prototext</tspan><tspan x="1499" y="1443.2">encoder</tspan><tspan x="1499" y="1455.2">marshalSingular</tspan><tspan x="1499" y="1467.2">0 of 0.06s (2.93%)</tspan></text></g>
<g id="N51" class="nd"><rect x="2045" y="1421" width="178" height="48" fill="#edecea" stroke="#b2ab9c"/><text class="f8"><tspan x="2134" y="1436.7">grpc</tspan><tspan x="2134" y="1448.7">newClientStreamWithParams</tspan><tspan x="2134" y="1460.7">0 of 0.05s (2.44%)</tspan></text></g>
<g id="N52" class="nd"><rect x="543" y="1581" width="129" height="69" fill="#edeae6" stroke="#b29e82"/><text class="f10"><tspan x="607.5" y="1597.7">runtime</tspan><tspan x="607.5" y="1612.7">runtimer</tspan><tspan x="607.5" y="1627.7">0.01s (0.49%)</tspan><tspan x="607.5" y="1642.7">of 0.11s (5.37%)</tspan></text></g>
<g id="N53" class="nd"><rect x="696" y="1584" width="132" height="63" fill="#edecea" stroke="#b2ada1"/><text class="f12"><tspan x="762" y="1603.1">runtime</tspan><tspan x="762" y="1621.1">nanotime</tspan><tspan x="762" y="1639.1">0.04s (1.95%)</tspan></text></g>
<g id="N54" class="nd"><rect x="341" y="1592" width="126" height="48" fill="#ede4dd" stroke="#b2723c"/><text class="f8"><tspan x="404" y="1607.7">syscall</tspan><tspan x="404" y="1619.7">RawSyscall6</tspan><tspan x="404" y="1631.7">0 of 0.27s (13.17%)</tspan></text></g>
<g id="N55" class="nd"><rect x="941" y="1576" width="163" height="80" fill="#eddcd5" stroke="#b23600"/><text class="f12"><tspan x="1022.5" y="1594.6">syscall</tspan><tspan x="1022.5" y="1612.6">EpollWait</tspan><tspan x="1022.5" y="1630.6">0.04s (1.95%)</tspan><tspan x="1022.5" y="1648.6">of 0.61s (29.76%)</tspan></text></g>
<g id="N56" class="nd"><rect x="2060" y="1581" width="119" height="71" fill="#edebe9" stroke="#b2a794"/><text class="f8"><tspan x="2119.5" y="1596.2">fastime</tspan><tspan x="2119.5" y="1608.2">(*fastime)</tspan><tspan x="2119.5" y="1620.2">StartTimerD</tspan><tspan x="2119.5" y="1632.2">func1</tspan><tspan x="2119.5" y="1644.2">0 of 0.07s (3.41%)</tspan></text></g>
<g id="N57" class="nd"><rect x="2203" y="1587" width="118" height="58" fill="#edebe8" stroke="#b2a58f"/><text class="f8"><tspan x="2262" y="1601.7">grpc</tspan><tspan x="2262" y="1613.7">(*clientStream)</tspan><tspan x="2262" y="1625.7">withRetry</tspan><tspan x="2262" y="1637.7">0 of 0.08s (3.90%)</tspan></text></g>
<g id="N58" class="nd"><rect x="892" y="1724" width="262" height="115" fill="#eddbd5" stroke="#b22900"/><text class="f24"><tspan x="1023" y="1756.7">syscall</tspan><tspan x="1023" y="1792.7">Syscall6</tspan><tspan x="1023" y="1828.7">0.84s (40.98%)</tspan></text></g>
<g id="N59" class="nd"><rect x="1230" y="1741" width="154" height="80" fill="#edebe8" stroke="#b2a58f"/><text class="f12"><tspan x="1307" y="1759.6">runtime</tspan><tspan x="1307" y="1777.6">chansend</tspan><tspan x="1307" y="1795.6">0.03s (1.46%)</tspan><tspan x="1307" y="1813.6">of 0.08s (3.90%)</tspan></text></g>
<g id="N60" class="nd"><rect x="2056" y="1739" width="129" height="84" fill="#edecea" stroke="#b2ada1"/><text class="f10"><tspan x="2120.5" y="1755.7">fastime</tspan><tspan x="2120.5" y="1770.7">(*fastime)</tspan><tspan x="2120.5" y="1785.7">store</tspan><tspan x="2120.5" y="1800.7">0.01s (0.49%)</tspan><tspan x="2120.5" y="1815.7">of 0.04s (1.95%)</tspan></text></g>
<g id="N61" class="nd"><rect x="2451" y="1752" width="118" height="59" fill="#edecea" stroke="#b2ada1"/><text class="f8"><tspan x="2510" y="1767.2">grpc</tspan><tspan x="2510" y="1779.2">(*csAttempt)</tspan><tspan x="2510" y="1791.2">recvMsg</tspan><tspan x="2510" y="1803.2">0 of 0.04s (1.95%)</tspan></text></g>
<g id="N62" class="nd"><rect x="1230" y="1908" width="154" height="81" fill="#edecea" stroke="#b2ab9c"/><text class="f12"><tspan x="1307" y="1927.1">runtime</tspan><tspan x="1307" y="1945.1">send</tspan><tspan x="1307" y="1963.1">0.03s (1.46%)</tspan><tspan x="1307" y="1981.1">of 0.05s (2.44%)</tspan></text></g>
<g id="N63" class="nd"><rect x="1941" y="1909" width="154" height="79" fill="#ede9e5" stroke="#b29775"/><text class="f12"><tspan x="2018" y="1927.1">runtime</tspan><tspan x="2018" y="1945.1">newobject</tspan><tspan x="2018" y="1963.1">0.04s (1.95%)</tspan><tspan x="2018" y="1981.1">of 0.14s (6.83%)</tspan></text></g>
<g id="N64" class="nd"><rect x="2483" y="1919" width="126" height="59" fill="#edecec" stroke="#b2b0a9"/><text class="f11"><tspan x="2546" y="1937.1">runtime</tspan><tspan x="2546" y="1953.6">selectgo</tspan><tspan x="2546" y="1970.1">0.02s (0.98%)</tspan></text></g>
<g id="N65" class="nd"><rect x="2634" y="1907" width="129" height="83" fill="#edecec" stroke="#b2b0a9"/><text class="f10"><tspan x="2698.5" y="1923.2">grpc</tspan><tspan x="2698.5" y="1938.2">(*parser)</tspan><tspan x="2698.5" y="1953.2">recvMsg</tspan><tspan x="2698.5" y="1968.2">0.01s (0.49%)</tspan><tspan x="2698.5" y="1983.2">of 0.02s (0.98%)</tspan></text></g>
<g id="N66" class="nd"><rect x="5" y="2072" width="119" height="48" fill="#edebe9" stroke="#b2a998"/><text class="f8"><tspan x="64.5" y="2087.7">runtime</tspan><tspan x="64.5" y="2099.7">gcBgMarkWorker</tspan><tspan x="64.5" y="2111.7">0 of 0.06s (2.93%)</tspan></text></g>
<g id="N67" class="nd"><rect x="1946" y="2059" width="144" height="74" fill="#ede9e5" stroke="#b29775"/><text class="f11"><tspan x="2018" y="2076.4">runtime</tspan><tspan x="2018" y="2092.9">mallocgc</tspan><tspan x="2018" y="2109.4">0.02s (0.98%)</tspan><tspan x="2018" y="2125.9">of 0.14s (6.83%)</tspan></text></g>
<g id="N68" class="nd"><rect x="102" y="2211" width="120" height="49" fill="#ede9e4" stroke="#b29471"/><text class="f8"><tspan x="162" y="2227.2">runtime</tspan><tspan x="162" y="2239.2">systemstack</tspan><tspan x="162" y="2251.2">0 of 0.15s (7.32%)</tspan></text></g>
<g id="N69" class="nd"><rect x="1721" y="2206" width="204" height="59" fill="#edecec" stroke="#b2b0a9"/><text class="f11"><tspan x="1823" y="2224.1">runtime</tspan><tspan x="1823" y="2240.6">memclrNoHeapPointers</tspan><tspan x="1823" y="2257.1">0.02s (0.98%)</tspan></text></g>
<g id="N70" class="nd"><rect x="1949" y="2201" width="138" height="70" fill="#edecea" stroke="#b2ab9c"/><text class="f10"><tspan x="2018" y="2218.2">runtime</tspan><tspan x="2018" y="2233.2">heapBitsSetType</tspan><tspan x="2018" y="2248.2">0.01s (0.49%)</tspan><tspan x="2018" y="2263.2">of 0.05s (2.44%)</tspan></text></g>
<g id="N71" class="nd"><rect x="102" y="2360" width="120" height="49" fill="#edebe9" stroke="#b2a794"/><text class="f8"><tspan x="162" y="2376.2">runtime</tspan><tspan x="162" y="2388.2">tracebackPCs</tspan><tspan x="162" y="2400.2">0 of 0.07s (3.41%)</tspan></text></g>
<g id="N72" class="nd"><rect x="245" y="2360" width="119" height="49" fill="#edecea" stroke="#b2ab9c"/><text class="f8"><tspan x="304.5" y="2376.2">runtime</tspan><tspan x="304.5" y="2388.2">gcDrain</tspan><tspan x="304.5" y="2400.2">0 of 0.05s (2.44%)</tspan></text></g>
<g id="N73" class="nd"><rect x="724" y="2338" width="156" height="91" fill="#edeceb" stroke="#b2aea5"/><text class="f11"><tspan x="802" y="2355.6">runtime</tspan><tspan x="802" y="2372.1">(*mcache)</tspan><tspan x="802" y="2388.6">prepareForSweep</tspan><tspan x="802" y="2405.1">0.02s (0.98%)</tspan><tspan x="802" y="2421.6">of 0.03s (1.46%)</tspan></text></g>
<g id="N74" class="nd"><rect x="1952" y="2343" width="132" height="77" fill="#edecec" stroke="#b2b0a9"/><text class="f11"><tspan x="2018" y="2361.9">runtime</tspan><tspan x="2018" y="2378.4">writeHeapBits</tspan><tspan x="2018" y="2394.9">write</tspan><tspan x="2018" y="2411.4">0.02s (0.98%)</tspan></text></g>
<g id="N75" class="nd"><rect x="97" y="2497" width="130" height="85" fill="#edecea" stroke="#b2ab9c"/><text class="f10"><tspan x="162" y="2514.2">runtime</tspan><tspan x="162" y="2529.2">(*unwinder)</tspan><tspan x="162" y="2544.2">next</tspan><tspan x="162" y="2559.2">0.01s (0.49%)</tspan><tspan x="162" y="2574.2">of 0.05s (2.44%)</tspan></text></g>
<g id="N76" class="nd"><rect x="269" y="2502" width="144" height="74" fill="#edecea" stroke="#b2ada1"/><text class="f11"><tspan x="341" y="2519.4">runtime</tspan><tspan x="341" y="2535.9">scanobject</tspan><tspan x="341" y="2552.4">0.02s (0.98%)</tspan><tspan x="341" y="2568.9">of 0.04s (1.95%)</tspan></text></g>
<g id="N77" class="nd"><rect x="742" y="2509" width="119" height="60" fill="#edecec" stroke="#b2b0a9"/><text class="f8"><tspan x="801.5" y="2524.7">runtime</tspan><tspan x="801.5" y="2536.7">(*mcentral)</tspan><tspan x="801.5" y="2548.7">uncacheSpan</tspan><tspan x="801.5" y="2560.7">0 of 0.02s (0.98%)</tspan></text></g>
<g id="N78" class="nd"><rect x="97" y="2649" width="130" height="84" fill="#edecea" stroke="#b2ada1"/><text class="f10"><tspan x="162" y="2665.7">runtime</tspan><tspan x="162" y="2680.7">(*unwinder)</tspan><tspan x="162" y="2695.7">resolveInternal</tspan><tspan x="162" y="2710.7">0.01s (0.49%)</tspan><tspan x="162" y="2725.7">of 0.04s (1.95%)</tspan></text></g>
<g id="N79" class="nd"><rect x="90" y="2802" width="144" height="75" fill="#edebe9" stroke="#b2a998"/><text class="f11"><tspan x="162" y="2819.9">runtime</tspan><tspan x="162" y="2836.4">pcvalue</tspan><tspan x="162" y="2852.9">0.02s (0.98%)</tspan><tspan x="162" y="2869.4">of 0.06s (2.93%)</tspan></text></g>
<g id="N80" class="nd"><rect x="98" y="2943" width="131" height="63" fill="#edeceb" stroke="#b2aea5"/><text class="f12"><tspan x="163.5" y="2962.1">runtime</tspan><tspan x="163.5" y="2980.1">step</tspan><tspan x="163.5" y="2998.1">0.03s (1.46%)</tspan></text></g>
</svg>
